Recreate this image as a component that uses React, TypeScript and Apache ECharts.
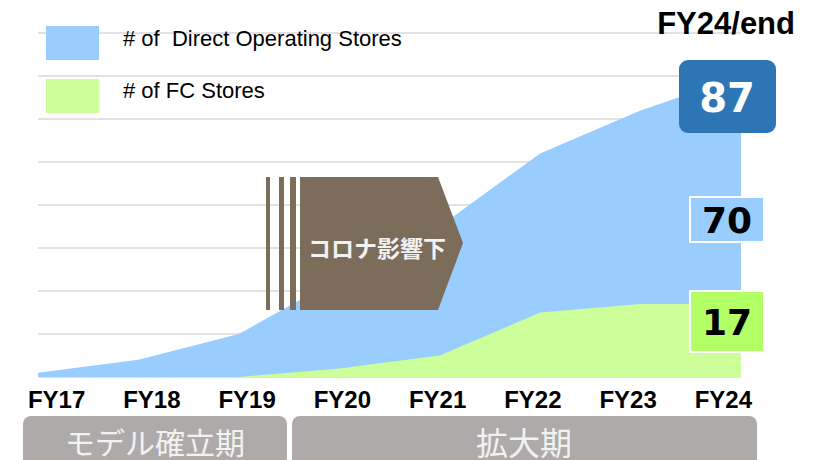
import React, { useEffect, useRef } from "react";
import * as echarts from "echarts";

const categories = ["FY17", "FY18", "FY19", "FY20", "FY21", "FY22", "FY23", "FY24"];
const directStores = [1, 4, 10, 23, 35, 52, 62, 70];
const fcStores = [0, 0, 0, 2, 5, 15, 17, 17];
const totalLabel = "87";
const directLabel = "70";
const fcLabel = "17";
const seriesNames = ["# of  Direct Operating Stores", "# of FC Stores"];
const phaseLabels = ["モデル確立期", "拡大期"];
const covidLabel = "コロナ影響下";
const yTicks = { min: 0, max: 80, interval: 10 };

const BLUE = "#99ccff";
const GREEN = "#ccff99";
const BROWN = "#7c6c5a";
const SANS = "'Liberation Sans', Arial, sans-serif";

export default function App() {
  const ref = useRef<HTMLDivElement>(null);
  useEffect(() => {
    if (!ref.current) return;
    const chart = echarts.init(ref.current, null, { renderer: "svg" });
    chart.setOption({
      animation: false,
      backgroundColor: "#ffffff",
      grid: [
        { left: 38, right: 79, top: 33, bottom: 83 },
        { left: 9, right: 49, top: 33, bottom: 83 },
      ],
      xAxis: [
        {
          type: "category",
          gridIndex: 0,
          data: categories,
          boundaryGap: false,
          axisLine: { show: false },
          axisTick: { show: false },
          axisLabel: { show: false },
        },
        {
          type: "category",
          gridIndex: 1,
          data: categories,
          boundaryGap: true,
          axisLine: { show: false },
          axisTick: { show: false },
          axisLabel: {
            margin: 10,
            fontFamily: SANS,
            fontWeight: "bold",
            fontSize: 24,
            color: "#000",
          },
        },
      ],
      yAxis: [
        {
          type: "value",
          gridIndex: 0,
          min: yTicks.min,
          max: yTicks.max,
          interval: yTicks.interval,
          axisLabel: { show: false },
          axisLine: { show: false },
          axisTick: { show: false },
          splitLine: { lineStyle: { color: "#d9d9d9", width: 1.5 } },
        },
        {
          type: "value",
          gridIndex: 1,
          min: yTicks.min,
          max: yTicks.max,
          show: false,
          splitLine: { show: false },
        },
      ],
      series: [
        {
          name: seriesNames[0],
          type: "line",
          xAxisIndex: 0,
          yAxisIndex: 0,
          data: directStores,
          symbol: "none",
          color: BLUE,
          lineStyle: { width: 0, color: BLUE },
          areaStyle: { color: BLUE, opacity: 1 },
          z: 2,
        },
        {
          name: seriesNames[1],
          type: "line",
          xAxisIndex: 0,
          yAxisIndex: 0,
          data: fcStores,
          symbol: "none",
          color: GREEN,
          lineStyle: { width: 0, color: GREEN },
          areaStyle: { color: GREEN, opacity: 1 },
          z: 3,
        },
      ],
      graphic: [
        // legend
        { type: "rect", z: 20, shape: { x: 46, y: 26, width: 53, height: 34 }, style: { fill: BLUE } },
        {
          type: "text",
          z: 21,
          x: 123,
          y: 38,
          style: { text: seriesNames[0], fill: "#000", font: "22px " + SANS, verticalAlign: "middle" },
        },
        { type: "rect", z: 20, shape: { x: 46, y: 79, width: 53, height: 34 }, style: { fill: GREEN } },
        {
          type: "text",
          z: 21,
          x: 123,
          y: 90,
          style: { text: seriesNames[1], fill: "#000", font: "22px " + SANS, verticalAlign: "middle" },
        },
        // covid arrow
        { type: "rect", z: 20, shape: { x: 266, y: 177, width: 4, height: 133 }, style: { fill: BROWN } },
        { type: "rect", z: 20, shape: { x: 279, y: 177, width: 5, height: 133 }, style: { fill: BROWN } },
        { type: "rect", z: 20, shape: { x: 290, y: 177, width: 6, height: 133 }, style: { fill: BROWN } },
        {
          type: "polygon",
          z: 20,
          shape: { points: [[300, 177], [438, 177], [463, 243], [438, 310], [300, 310]] },
          style: { fill: BROWN },
        },
        {
          type: "text",
          z: 21,
          x: 377,
          y: 247,
          style: {
            text: covidLabel,
            fill: "#f2f2f2",
            font: "bold 23px 'Noto Sans CJK JP', sans-serif",
            align: "center",
            verticalAlign: "middle",
          },
        },
        // FY24/end title
        {
          type: "text",
          z: 20,
          x: 795,
          y: 23,
          style: {
            text: "FY24/end",
            fill: "#000",
            font: "bold 31px " + SANS,
            align: "right",
            verticalAlign: "middle",
          },
        },
        // total box
        {
          type: "rect",
          z: 20,
          shape: { x: 679, y: 60, width: 97, height: 73, r: 9 },
          style: { fill: "#2e75b6" },
        },
        {
          type: "text",
          z: 21,
          x: 727,
          y: 98,
          style: {
            text: totalLabel,
            fill: "#ffffff",
            font: "bold 40px 'DejaVu Sans', Verdana, sans-serif",
            align: "center",
            verticalAlign: "middle",
          },
        },
        // direct box
        {
          type: "rect",
          z: 20,
          shape: { x: 690, y: 197, width: 74, height: 45 },
          style: { fill: BLUE, stroke: "#ffffff", lineWidth: 2 },
        },
        {
          type: "text",
          z: 21,
          x: 727,
          y: 220,
          style: {
            text: directLabel,
            fill: "#000",
            font: "bold 36px 'DejaVu Sans', Verdana, sans-serif",
            align: "center",
            verticalAlign: "middle",
          },
        },
        // fc box
        {
          type: "rect",
          z: 20,
          shape: { x: 690, y: 291, width: 74, height: 61 },
          style: { fill: "#b3ff66", stroke: "#ffffff", lineWidth: 2 },
        },
        {
          type: "text",
          z: 21,
          x: 727,
          y: 322,
          style: {
            text: fcLabel,
            fill: "#000",
            font: "bold 36px 'DejaVu Sans', Verdana, sans-serif",
            align: "center",
            verticalAlign: "middle",
          },
        },
        // phase boxes
        {
          type: "rect",
          z: 20,
          shape: { x: 23, y: 416, width: 264, height: 60, r: 8 },
          style: { fill: "#aeaaaa" },
        },
        {
          type: "text",
          z: 21,
          x: 155,
          y: 441,
          style: {
            text: phaseLabels[0],
            fill: "#f2f2f2",
            font: "30px 'Noto Sans CJK JP', sans-serif",
            align: "center",
            verticalAlign: "middle",
          },
        },
        {
          type: "rect",
          z: 20,
          shape: { x: 292, y: 416, width: 465, height: 60, r: 8 },
          style: { fill: "#aeaaaa" },
        },
        {
          type: "text",
          z: 21,
          x: 524,
          y: 441,
          style: {
            text: phaseLabels[1],
            fill: "#f2f2f2",
            font: "32px 'Noto Sans CJK JP', sans-serif",
            align: "center",
            verticalAlign: "middle",
          },
        },
      ],
    });
    return () => chart.dispose();
  }, []);
  return <div ref={ref} style={{ width: 820, height: 460, position: "absolute", left: 0, top: 0 }} />;
}
